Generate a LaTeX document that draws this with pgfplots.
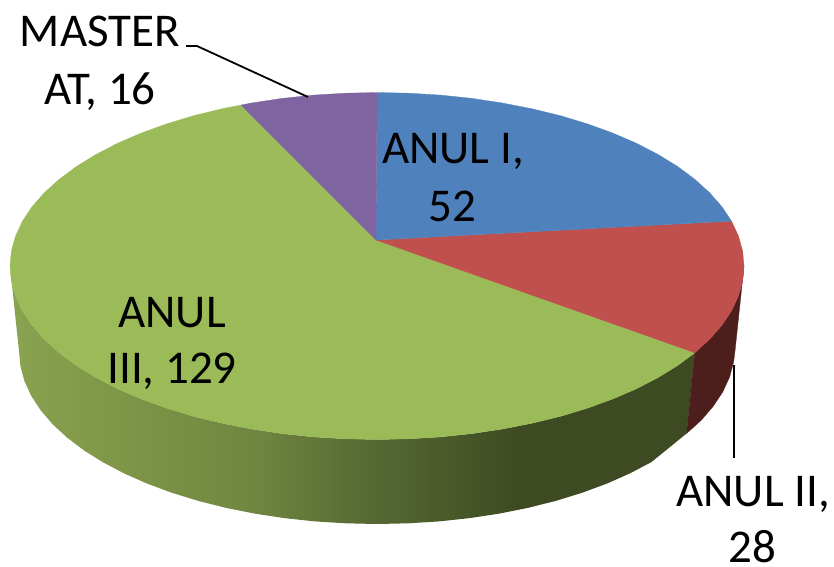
\documentclass[border=0pt]{standalone}
\usepackage{pgfplots}
\usepackage{fontspec}
\setmainfont{Carlito}
\pgfplotsset{compat=1.18}
\definecolor{pblue}{RGB}{79,129,189}
\definecolor{pred}{RGB}{192,80,77}
\definecolor{pgreen}{RGB}{155,187,89}
\definecolor{ppurple}{RGB}{128,100,162}
\definecolor{wallred}{RGB}{76,30,28}
\pgfdeclarehorizontalshading{greenwall}{100bp}{
 rgb(0bp)=(0.533,0.635,0.314);
 rgb(25.7bp)=(0.533,0.635,0.314);
 rgb(32.3bp)=(0.502,0.588,0.282);
 rgb(42.5bp)=(0.443,0.529,0.255);
 rgb(50.5bp)=(0.345,0.424,0.204);
 rgb(62.2bp)=(0.243,0.294,0.133);
 rgb(100bp)=(0.243,0.294,0.133)}
\begin{document}
\begin{tikzpicture}
\begin{axis}[
  width=834pt,height=566pt,scale only axis,
  xmin=0,xmax=834,ymin=0,ymax=566,y dir=reverse,
  hide axis,clip=false,
  every axis plot/.append style={line join=round},
  every node/.append style={inner sep=0pt,outer sep=0pt},
]
% side wall: ANUL III
\addplot[draw=none,shading=greenwall] coordinates {
(10,266)(11.4,281.1)(15.6,296.1)(22.5,310.9)(32.1,325.3)(44.4,339.3)(59.2,352.75)(76.4,365.5)(95.9,377.5)(117.5,388.7)(141.1,398.9)(166.5,408.1)(193.5,416.3)(221.9,423.2)(251.5,429)(282,433.6)(313.3,436.9)(345,438.8)(377,439.5)(409,438.8)(440.7,436.9)(472,433.6)(502.5,429)(532.1,423.2)(560.5,416.3)(587.5,408.1)(612.9,398.9)(636.5,388.7)(658.1,377.5)(677.6,365.5)(694.8,352.75)
(686.5,433.5)(670,447)(651.2,462.2)(630.1,473.3)(607.1,483.5)(582.3,492.7)(556,500.8)(528.3,507.8)(499.4,513.6)(469.7,518.1)(439.1,521.4)(408.2,523.3)(377,524)(345.8,523.3)(314.9,521.4)(284.3,518.1)(254.6,513.6)(225.7,507.8)(198,500.8)(171.7,492.7)(146.9,483.5)(123.9,473.3)(102.8,462.2)(83.7,450.2)(67,437.5)(52.5,424.1)(40.6,410.2)(31.2,395.8)(24.4,381)(20.4,366.1)(19,351)
} -- cycle;
% side wall: ANUL II
\addplot[draw=wallred,line width=0.3pt,fill=wallred] coordinates {
(694.8,352.75)(709.6,339.3)(721.9,325.3)(731.5,310.9)(738.4,296.1)(742.6,281.1)(744,266)
(735,351)(733.6,362)(729.6,377)(722.8,391.8)(713.4,406)(701.5,420)(686.5,433.5)
} -- cycle;
% ANUL III, 129
\addplot[draw=pgreen,line width=0.3pt,fill=pgreen] coordinates {
(376,240)(241,105)(221.9,108.8)(193.5,115.7)(166.5,123.9)(141.1,133.1)(117.5,143.3)(95.9,154.5)(76.4,166.5)(59.2,179.3)(44.4,192.7)(32.1,206.7)(22.5,221.1)(15.6,235.9)(11.4,250.9)(10,266)
(11.4,281.1)(15.6,296.1)(22.5,310.9)(32.1,325.3)(44.4,339.3)(59.2,352.75)(76.4,365.5)(95.9,377.5)(117.5,388.7)(141.1,398.9)(166.5,408.1)(193.5,416.3)(221.9,423.2)(251.5,429)(282,433.6)(313.3,436.9)(345,438.8)(377,439.5)(409,438.8)(440.7,436.9)(472,433.6)(502.5,429)(532.1,423.2)(560.5,416.3)(587.5,408.1)(612.9,398.9)(636.5,388.7)(658.1,377.5)(677.6,365.5)(694.8,352.75)
} -- cycle;
% ANUL II, 28
\addplot[draw=pred,line width=0.3pt,fill=pred] coordinates {
(376,240)(694.8,352.75)(709.6,339.3)(721.9,325.3)(731.5,310.9)(738.4,296.1)(742.6,281.1)(744,266)(742.6,250.9)(738.4,235.9)(731.5,221.1)
} -- cycle;
% ANUL I, 52
\addplot[draw=pblue,line width=0.3pt,fill=pblue] coordinates {
(376,240)(731.5,221.1)(721.9,206.7)(709.6,192.7)(694.8,179.3)(677.6,166.5)(658.1,154.5)(636.5,143.3)(612.9,133.1)(587.5,123.9)(560.5,115.7)(532.1,108.8)(502.5,103)(472,98.4)(440.7,95.1)(409,93.2)(377,92.5)
} -- cycle;
% MASTER AT, 16
\addplot[draw=ppurple,line width=0.3pt,fill=ppurple] coordinates {
(376,240)(377,92.5)(345,93.2)(313.3,95.1)(282,98.4)(251.5,103)(241,105)
} -- cycle;
% leader lines
\addplot[black,line width=1.8pt] coordinates {(186,46)(197,46)(308,97)};
\addplot[black,line width=1.8pt] coordinates {(734,365)(734,458)};
% labels
\node[anchor=base,font=\fontsize{47}{47}\selectfont] at (axis cs:100,46) {MASTER};
\node[anchor=base,font=\fontsize{47}{47}\selectfont] at (axis cs:100,104) {AT, 16};
\node[anchor=base,font=\fontsize{47}{47}\selectfont] at (axis cs:453,163) {ANUL I,};
\node[anchor=base,font=\fontsize{47}{47}\selectfont] at (axis cs:452,221) {52};
\node[anchor=base,font=\fontsize{47}{47}\selectfont] at (axis cs:172,327) {ANUL};
\node[anchor=base,font=\fontsize{47}{47}\selectfont] at (axis cs:172,383) {III, 129};
\node[anchor=base,font=\fontsize{47}{47}\selectfont] at (axis cs:753,506) {ANUL II,};
\node[anchor=base,font=\fontsize{47}{47}\selectfont] at (axis cs:752,562) {28};
\end{axis}
\pgfresetboundingbox
\path[use as bounding box] (0,0) rectangle (834pt,566pt);
\end{tikzpicture}
\end{document}
